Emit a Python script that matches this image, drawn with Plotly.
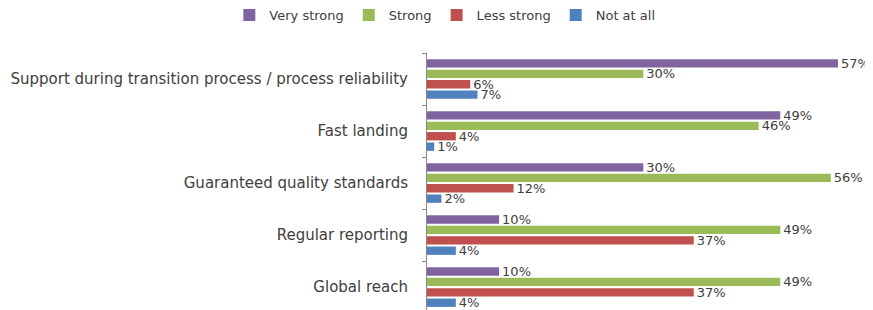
import plotly.graph_objects as go

categories = [
    "Support during transition process / process reliability",
    "Fast landing",
    "Guaranteed quality standards",
    "Regular reporting",
    "Global reach",
]
series_names = ["Very strong", "Strong", "Less strong", "Not at all"]
very_strong = [57, 49, 30, 10, 10]
strong = [30, 46, 56, 49, 49]
less_strong = [6, 4, 12, 37, 37]
not_at_all = [7, 1, 2, 4, 4]
colors = ["#8064A2", "#9BBB59", "#C0504D", "#4F81BD"]

FONT = "DejaVu Sans"
fig = go.Figure()
for name, vals, col in zip(series_names, [very_strong, strong, less_strong, not_at_all], colors):
    fig.add_trace(go.Bar(
        y=categories, x=vals, name=name, orientation="h",
        marker=dict(color=col, line=dict(width=0)),
        text=[f"{v}%" for v in vals], textposition="outside",
        textfont=dict(family=FONT, size=13, color="#404040"),
        constraintext="none", textangle=0,
        cliponaxis=False,
    ))

# page body has an 8px default margin, so the figure is 8px smaller than the window
fig.update_layout(
    width=865, height=302,
    margin=dict(l=419, r=0, t=45, b=0, autoexpand=False),
    barmode="group", bargap=0.2, bargroupgap=0.2,
    plot_bgcolor="white", paper_bgcolor="white",
    font=dict(family=FONT, size=15, color="#404040"),
    showlegend=True,
    legend=dict(orientation="h", x=0.505, xref="container", xanchor="center",
                y=0.977, yref="container", yanchor="middle",
                font=dict(family=FONT, size=13, color="#404040"),
                itemwidth=30, traceorder="normal", tracegroupgap=0),
)
fig.update_xaxes(range=[0, 61.86], visible=False, showgrid=False)
fig.update_yaxes(
    range=[4.44, -0.5], showline=True, linecolor="#888888", linewidth=1,
    ticks="outside", tickson="boundaries", ticklen=4, tickcolor="#888888",
    ticklabelstandoff=15, showgrid=False, automargin=False,
    tickfont=dict(family=FONT, size=15, color="#404040"),
)
fig.write_html("out.html")
